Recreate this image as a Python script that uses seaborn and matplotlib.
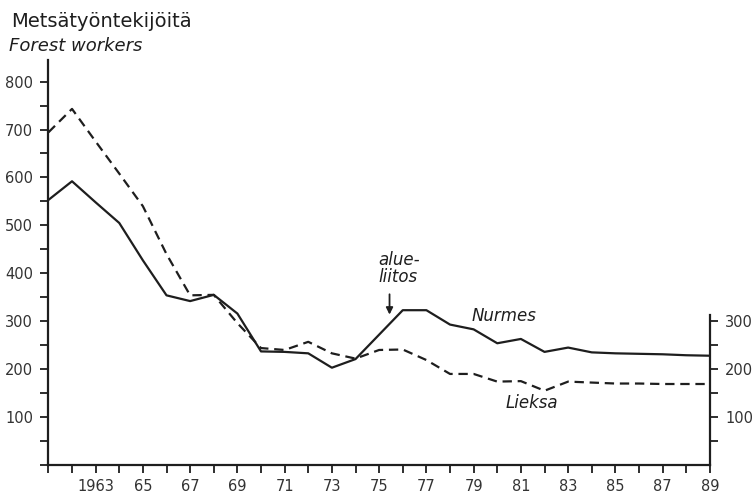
"""
Forest workers in Nurmes and Lieksa, 1961-1989
"""
import matplotlib
matplotlib.use("Agg")
import matplotlib.pyplot as plt
from matplotlib.ticker import MultipleLocator, FixedLocator
import seaborn as sns
import pandas as pd

years = list(range(1961, 1990))
nurmes = [553, 592, 548, 505, 427, 354, 342, 355, 316, 237,
          236, 233, 203, 221, 272, 323, 323, 293, 283, 254,
          263, 236, 245, 235, 233, 232, 231, 229, 228]
lieksa = [694, 743, 675, 608, 540, 440, 354, 355, 296, 244,
          240, 257, 233, 222, 240, 241, 219, 190, 190, 174,
          175, 155, 174, 172, 170, 170, 169, 169, 169]
xtick_years = list(range(1963, 1990, 2))
xtick_labels = ["1963"] + [str(y)[2:] for y in xtick_years[1:]]

ink = "#1e1e1e"

df = pd.DataFrame({
    "Vuosi": years * 2,
    "Työntekijöitä": nurmes + lieksa,
    "Kunta": ["Nurmes"] * len(years) + ["Lieksa"] * len(years),
})

sns.set_style("ticks")
plt.rcParams["font.family"] = ["DejaVu Sans"]
plt.rcParams["text.color"] = ink
plt.rcParams["axes.edgecolor"] = ink
plt.rcParams["xtick.color"] = ink
plt.rcParams["ytick.color"] = ink

fig = plt.figure(figsize=(7.56, 4.96), dpi=100)
ax = fig.add_axes([0.064, 0.0625, 0.875, 0.8165])

sns.lineplot(data=df, x="Vuosi", y="Työntekijöitä", hue="Kunta",
             style="Kunta", palette={"Nurmes": ink, "Lieksa": ink},
             dashes={"Nurmes": "", "Lieksa": (4.2, 2.6)},
             linewidth=1.6, legend=False, ax=ax)

ax.set_xlim(1961, 1989)
ax.set_ylim(0, 845)
ax.set_xlabel("")
ax.set_ylabel("")

# spines
for s in ["top", "right"]:
    ax.spines[s].set_visible(False)
for s in ["left", "bottom"]:
    ax.spines[s].set_linewidth(1.6)

ax.xaxis.set_major_locator(FixedLocator(xtick_years))
ax.set_xticklabels(xtick_labels)
ax.xaxis.set_minor_locator(MultipleLocator(1))
ax.yaxis.set_minor_locator(MultipleLocator(50))
ax.set_yticks(range(100, 900, 100))
ax.tick_params(axis="both", which="both", direction="out", length=6,
               width=1.3, labelsize=10.5, labelcolor="#333333")
ax.tick_params(axis="y", pad=5)
ax.tick_params(axis="x", pad=4)

# right-hand axis, same scale, only up to 300
ax2 = ax.twinx()
ax2.set_ylim(ax.get_ylim())
for s in ["top", "left", "bottom"]:
    ax2.spines[s].set_visible(False)
ax2.spines["right"].set_bounds(0, 312)
ax2.spines["right"].set_linewidth(1.6)
ax2.set_yticks([100, 200, 300])
ax2.yaxis.set_minor_locator(FixedLocator([50, 150, 250]))
ax2.tick_params(axis="y", which="both", direction="out", length=6,
                width=1.3, labelsize=10.5, pad=5, labelcolor="#333333")

# titles
fig.text(0.015, 0.946, "Metsätyöntekijöitä", fontsize=14, ha="left",
         va="baseline")
fig.text(0.012, 0.897, "Forest workers", fontsize=13, style="italic",
         ha="left", va="baseline")

# labels on the lines
ax.text(1978.9, 310, "Nurmes", style="italic", fontsize=12,
        ha="left", va="center")
ax.text(1980.35, 129, "Lieksa", style="italic", fontsize=12,
        ha="left", va="center")
ax.text(1974.95, 410, "alue-\nliitos", style="italic", fontsize=12,
        ha="left", va="center", linespacing=0.95)
ax.annotate("", xy=(1975.44, 308), xytext=(1975.44, 362),
            arrowprops=dict(arrowstyle="-|>", color=ink, lw=1.3,
                            mutation_scale=10))

plt.savefig("out.png", dpi=100)
plt.close()
